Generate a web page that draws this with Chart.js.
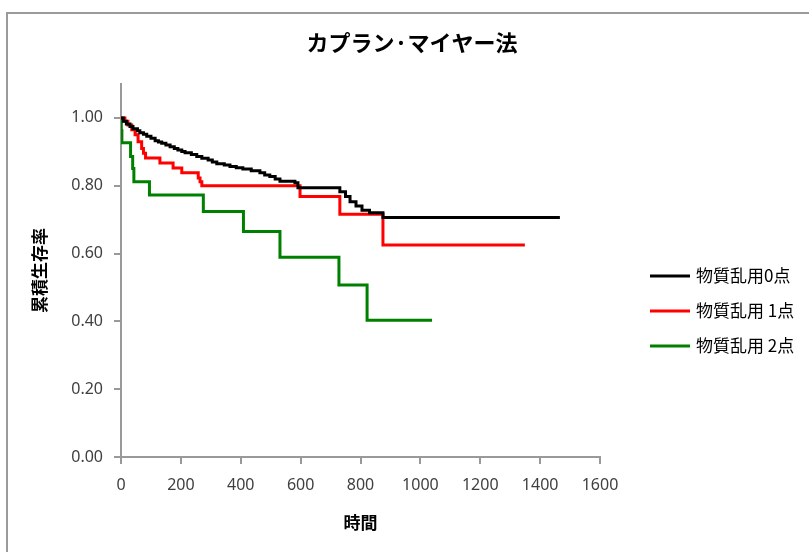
<!DOCTYPE html>
<html lang="ja">
<head>
<meta charset="utf-8">
<title>カプラン·マイヤー法</title>
<script src="https://cdn.jsdelivr.net/npm/chart.js@4.4.9/dist/chart.umd.min.js"></script>
<style>
html, body { margin: 0; padding: 0; background: #fff; overflow: hidden; }
#wrap { position: relative; width: 809px; height: 552px; }
#frame { position: absolute; left: 6px; top: 12px; width: 830px; height: 570px; border-left: 2px solid #9a9a9a; border-top: 2px solid #9a9a9a; box-sizing: border-box; }
#kmChart { position: absolute; left: 0; top: 0; }
</style>
</head>
<body>
<div id="wrap"><div id="frame"></div><canvas id="kmChart"></canvas></div>
<script>
const chartTitle = 'カプラン·マイヤー法';
const xTitle = '時間';
const yTitle = '累積生存率';
const seriesLabels = ['物質乱用0点', '物質乱用 1点', '物質乱用 2点'];
const xTicks = [0, 200, 400, 600, 800, 1000, 1200, 1400, 1600];
const yTicks = [0, 0.2, 0.4, 0.6, 0.8, 1.0];

// score 0
const score0Days = [0, 8, 18, 30, 40, 55, 63, 75, 86, 100, 114, 125, 136, 150, 164, 178, 190, 203, 214, 235, 253, 270, 291, 305, 320, 345, 364, 385, 407, 435, 464, 480, 497, 515, 531, 581, 591, 731, 750, 765, 785, 805, 830, 875, 1466];
const score0Surv = [1.00, 0.99, 0.982, 0.975, 0.968, 0.962, 0.956, 0.952, 0.946, 0.94, 0.933, 0.929, 0.925, 0.92, 0.915, 0.91, 0.905, 0.901, 0.897, 0.892, 0.886, 0.881, 0.876, 0.87, 0.865, 0.861, 0.857, 0.853, 0.849, 0.844, 0.838, 0.832, 0.827, 0.82, 0.813, 0.809, 0.794, 0.782, 0.768, 0.753, 0.74, 0.728, 0.72, 0.706, 0.706];
// score 1
const score1Days = [0, 13, 23, 36, 47, 57, 69, 75, 82, 130, 174, 203, 258, 264, 270, 598, 731, 875, 1349];
const score1Surv = [1.00, 0.99, 0.979, 0.965, 0.95, 0.93, 0.91, 0.896, 0.882, 0.867, 0.852, 0.838, 0.823, 0.812, 0.80, 0.768, 0.716, 0.625, 0.625];
// score 2
const score2Days = [0, 1, 3, 32, 39, 43, 95, 275, 409, 531, 728, 822, 1039];
const score2Surv = [1.00, 0.962, 0.927, 0.886, 0.851, 0.812, 0.773, 0.724, 0.665, 0.589, 0.507, 0.403, 0.403];

const kmPoints = (days, surv) => days.map((d, i) => ({ x: d, y: surv[i] }));

const kmDecor = {
    id: 'kmDecor',
    afterDraw(chart) {
        const ctx = chart.ctx;
        ctx.save();
        ctx.fillStyle = '#000';
        ctx.textBaseline = 'middle';
        ctx.font = "bold 22px 'Noto Sans CJK JP', sans-serif";
        ctx.textAlign = 'center';
        ctx.fillText(chartTitle, 412, 43);
        // legend
        ctx.font = "17px 'Noto Sans CJK JP', sans-serif";
        ctx.textAlign = 'left';
        chart.data.datasets.forEach((ds, i) => {
            const y = 276 + i * 35;
            ctx.strokeStyle = ds.borderColor;
            ctx.lineWidth = 3;
            ctx.beginPath();
            ctx.moveTo(650, y);
            ctx.lineTo(690, y);
            ctx.stroke();
            ctx.fillText(ds.label, 696, y);
        });
        ctx.restore();
    }
};

const axisGray = '#999999';
const tickFont = { family: "'Noto Sans', sans-serif", size: 16 };
const titleFont = { family: "'Noto Sans CJK JP', sans-serif", size: 17, weight: 'bold' };

function kmLine(label, days, surv, color) {
    return {
        label,
        data: kmPoints(days, surv),
        borderColor: color,
        backgroundColor: color,
        borderWidth: 3,
        stepped: true,
        pointRadius: 0,
        fill: false
    };
}

function makeKmChart() {
    const canvas = document.getElementById('kmChart');
    new Chart(canvas.getContext('2d'), {
        type: 'line',
        data: {
            datasets: [
                kmLine(seriesLabels[0], score0Days, score0Surv, '#000000'),
                kmLine(seriesLabels[1], score1Days, score1Surv, '#ff0000'),
                kmLine(seriesLabels[2], score2Days, score2Surv, '#008000')
            ]
        },
        options: {
            responsive: true,
            maintainAspectRatio: false,
            animation: false,
            layout: { padding: { top: 84, right: 209, left: 0, bottom: 0 } },
            plugins: { legend: { display: false }, title: { display: false }, tooltip: { enabled: false } },
            scales: {
                x: {
                    type: 'linear',
                    min: 0,
                    max: 1600,
                    afterBuildTicks: scale => { scale.ticks = xTicks.map(value => ({ value })); },
                    afterFit: scale => { scale.height = 95; },
                    grid: { drawOnChartArea: false, drawTicks: true, tickLength: 7, color: axisGray, lineWidth: 2 },
                    border: { color: axisGray, width: 2 },
                    ticks: { color: '#404040', font: tickFont, padding: 12, maxRotation: 0, callback: value => String(value) },
                    title: { display: true, text: xTitle, color: '#000', font: titleFont, padding: { top: 0, bottom: 19 } }
                },
                y: {
                    type: 'linear',
                    min: 0,
                    max: 1.1,
                    afterBuildTicks: scale => { scale.ticks = yTicks.map(value => ({ value })); },
                    afterFit: scale => { scale.width = 121; },
                    grid: { drawOnChartArea: false, drawTicks: true, tickLength: 7, color: axisGray, lineWidth: 2 },
                    border: { color: axisGray, width: 2 },
                    ticks: { color: '#404040', font: tickFont, padding: 11, callback: value => Number(value).toFixed(2) },
                    title: { display: true, text: yTitle, color: '#000', font: titleFont, padding: { top: 29, bottom: 0 } }
                }
            }
        },
        plugins: [kmDecor]
    });
}

document.addEventListener('DOMContentLoaded', makeKmChart);
</script>
</body>
</html>
